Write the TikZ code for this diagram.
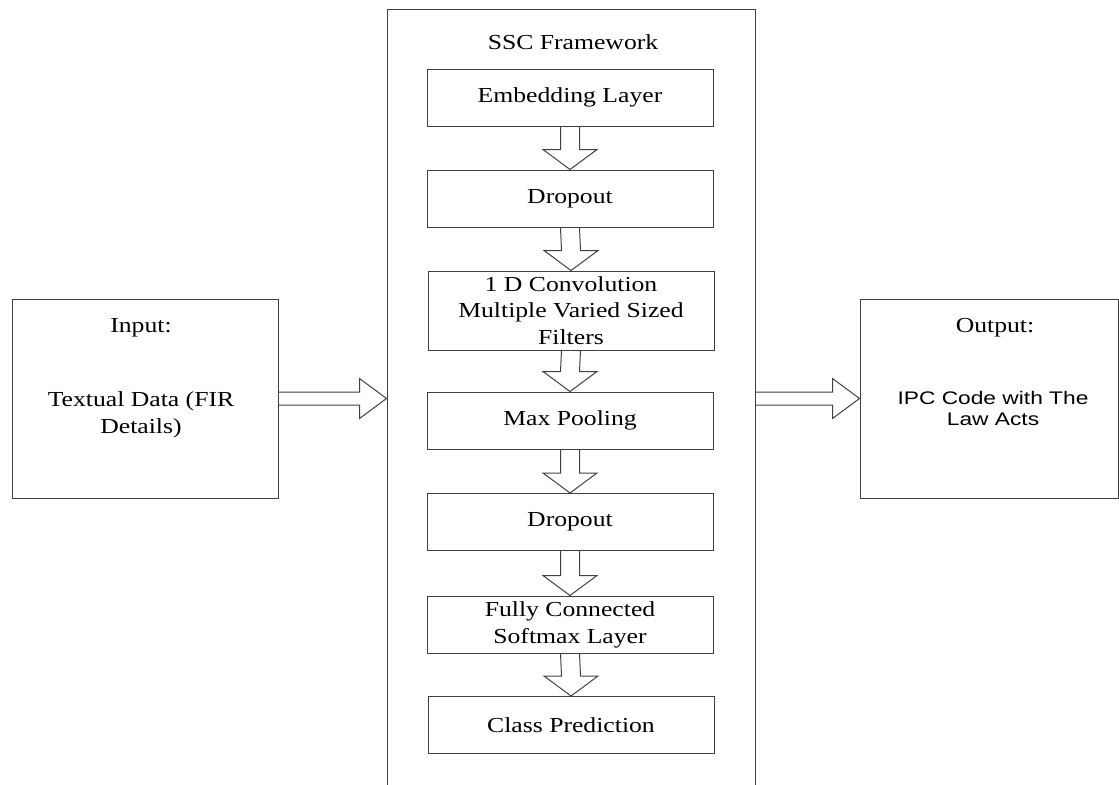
\documentclass[tikz,border=0pt]{standalone}
\usepackage{fontspec}
\setmainfont{Liberation Serif}[FakeStretch=1.2]
\newfontfamily\sanstext{Liberation Sans}[FakeStretch=1.25]
\usetikzlibrary{calc}
\newcommand{\varr}[2]{%
  \draw[blockarrow]
   ($(#1.south)+(-9.5,0)$) -- ($(#2.north)+(-9.5,-20)$) -- ($(#2.north)+(-27,-20)$) --
   (#2.north) -- ($(#2.north)+(27,-20)$) -- ($(#2.north)+(9.5,-20)$) -- ($(#1.south)+(9.5,0)$);}
\newcommand{\harr}[2]{%
  \draw[blockarrow]
   ($(#1.east)+(0,-6.5)$) -- ($(#2.west)+(-27,-6.5)$) -- ($(#2.west)+(-27,-20)$) --
   (#2.west) -- ($(#2.west)+(-27,20)$) -- ($(#2.west)+(-27,6.5)$) -- ($(#1.east)+(0,6.5)$);}
\tikzset{
  layer/.style={draw=black!75, line width=0.5pt, minimum width=143pt, minimum height=28.5pt, inner sep=0pt},
  sidebox/.style={draw=black!75, line width=0.5pt, minimum height=99.5pt, inner sep=0pt},
  txt/.style={align=center, inner sep=0pt, font=\fontsize{10.7}{13.4}\selectfont},
  blockarrow/.style={draw=black!75, line width=0.5pt, line join=miter}}

\begin{document}
\begin{tikzpicture}[x=0.5pt,y=-0.5pt]
   \useasboundingbox (0,0) rectangle (1119,784);
   % outer boxes
   \node[sidebox, minimum width=133pt] (input)  at ( 145,398.5) {};
   \node[sidebox, minimum width=184pt, minimum height=389.5pt] (ssc) at (571,398.5) {};
   \node[sidebox, minimum width=129pt] (output) at ( 989,398.5) {};
   \node[txt] (inputtitle)  at (141,328) {Input:};
   \node[txt] (inputtext)   at (141,415) {Textual Data (FIR\\Details)};
   \node[txt] (outputtitle) at (995,328) {Output:};
   \node[txt, font=\sanstext\fontsize{9.1}{10.5}\selectfont] (outputtext) at (993,408.5) {IPC Code with The\\Law Acts};
   \node[txt] (ssctitle) at (573,42) {SSC Framework};

   % layers of the framework
   \node[layer] (embed)   at (570, 97.5) {};
   \node[layer] (drop)    at (570,198.5) {};
   \node[layer, minimum height=39.5pt] (conv) at (571,310.5) {};
   \node[layer] (pool)    at (570,420.5) {};
   \node[layer] (droptwo) at (570,522.0) {};
   \node[layer] (dense)   at (570,624.5) {};
   \node[layer] (pred)    at (571,725.0) {};
   \node[txt] (embedtext)   at (embed)   {Embedding Layer};
   \node[txt] (droptext)    at (drop)    {Dropout};
   \node[txt] (convtext)    at (conv)    {1 D Convolution\\Multiple Varied Sized\\Filters};
   \node[txt] (pooltext)    at (pool)    {Max Pooling};
   \node[txt] (droptwotext) at (droptwo) {Dropout};
   \node[txt] (densetext)   at (dense)   {Fully Connected\\Softmax Layer};
   \node[txt] (predtext)    at (pred)    {Class Prediction};

   % hollow arrows
   \varr{embed}{drop}
   \varr{drop}{conv}
   \varr{conv}{pool}
   \varr{pool}{droptwo}
   \varr{droptwo}{dense}
   \varr{dense}{pred}
   \harr{input}{ssc}
   \harr{ssc}{output}
\end{tikzpicture}
\end{document}
